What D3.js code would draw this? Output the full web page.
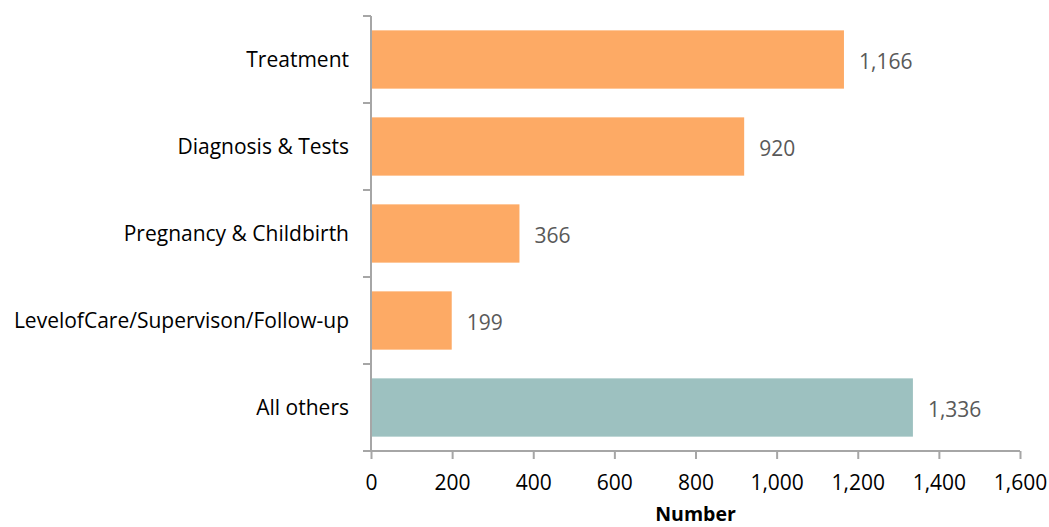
<!DOCTYPE html>
<html>
<head>
<meta charset="utf-8">
<script src="https://cdn.jsdelivr.net/npm/d3@7"></script>
<style>
  body { margin: 0; background: #fff; }
  text { font-family: "Open Sans", Lato, sans-serif; }
</style>
</head>
<body>
<div id="chart"></div>
<script>
// data
const categories = ["Treatment", "Diagnosis & Tests", "Pregnancy & Childbirth", "LevelofCare/Supervison/Follow-up", "All others"];
const values = [1166, 920, 366, 199, 1336];
const barColors = ["#fdaa65", "#fdaa65", "#fdaa65", "#fdaa65", "#9dc1c0"];
const xTicks = [0, 200, 400, 600, 800, 1000, 1200, 1400, 1600];

const width = 1049, height = 527;
const margin = { top: 16, right: 29, bottom: 76, left: 371 };
const innerW = width - margin.left - margin.right;
const innerH = height - margin.top - margin.bottom;

const svg = d3.select("#chart").append("svg")
    .attr("width", width)
    .attr("height", height);

const g = svg.append("g")
    .attr("transform", "translate(" + margin.left + "," + margin.top + ")");

const x = d3.scaleLinear().domain([0, 1600]).range([0, innerW]);
const y = d3.scaleBand().domain(categories).range([0, innerH]).paddingInner(0.33).paddingOuter(0.165);

const axisColor = "#a6a6a6";

// bars
g.selectAll("rect.bar")
    .data(values)
    .enter().append("rect")
    .attr("class", "bar")
    .attr("x", 1)
    .attr("y", (d, i) => y(categories[i]))
    .attr("width", d => x(d) - 1)
    .attr("height", y.bandwidth())
    .attr("fill", (d, i) => barColors[i]);

// value labels
g.selectAll("text.val")
    .data(values)
    .enter().append("text")
    .attr("class", "val")
    .attr("x", d => x(d) + 15)
    .attr("y", (d, i) => y(categories[i]) + y.bandwidth() / 2)
    .attr("dy", "0.45em")
    .attr("fill", "#595959")
    .style("font-size", "21px")
    .text(d => d3.format(",")(d));

// x axis
const xAxis = g.append("g")
    .attr("transform", "translate(0," + innerH + ")")
    .call(d3.axisBottom(x).tickValues(xTicks).tickFormat(d3.format(",")).tickSizeOuter(0).tickSize(8).tickPadding(16));
xAxis.select(".domain").attr("stroke", axisColor).attr("stroke-width", 2)
    .attr("d", "M-8,0H" + innerW);
xAxis.selectAll(".tick line").attr("stroke", axisColor).attr("stroke-width", 2);
xAxis.selectAll(".tick text").attr("fill", "#000").style("font-size", "21px");

// y axis: line with ticks at band boundaries
g.append("line")
    .attr("x1", 0).attr("x2", 0)
    .attr("y1", 0).attr("y2", innerH)
    .attr("stroke", axisColor).attr("stroke-width", 2);

const boundaries = d3.range(categories.length).map(i => i * y.step());
g.selectAll("line.ytick")
    .data(boundaries)
    .enter().append("line")
    .attr("class", "ytick")
    .attr("x1", -8).attr("x2", 0)
    .attr("y1", d => d).attr("y2", d => d)
    .attr("stroke", axisColor).attr("stroke-width", 2);

g.selectAll("text.cat")
    .data(categories)
    .enter().append("text")
    .attr("class", "cat")
    .attr("x", -22)
    .attr("y", d => y(d) + y.bandwidth() / 2)
    .attr("dy", "0.35em")
    .attr("text-anchor", "end")
    .attr("fill", "#000")
    .style("font-size", "21px")
    .text(d => d);

// axis title
g.append("text")
    .attr("x", innerW / 2)
    .attr("y", innerH + 70)
    .attr("text-anchor", "middle")
    .style("font-size", "19.5px")
    .style("font-weight", "bold")
    .text("Number");
</script>
</body>
</html>
